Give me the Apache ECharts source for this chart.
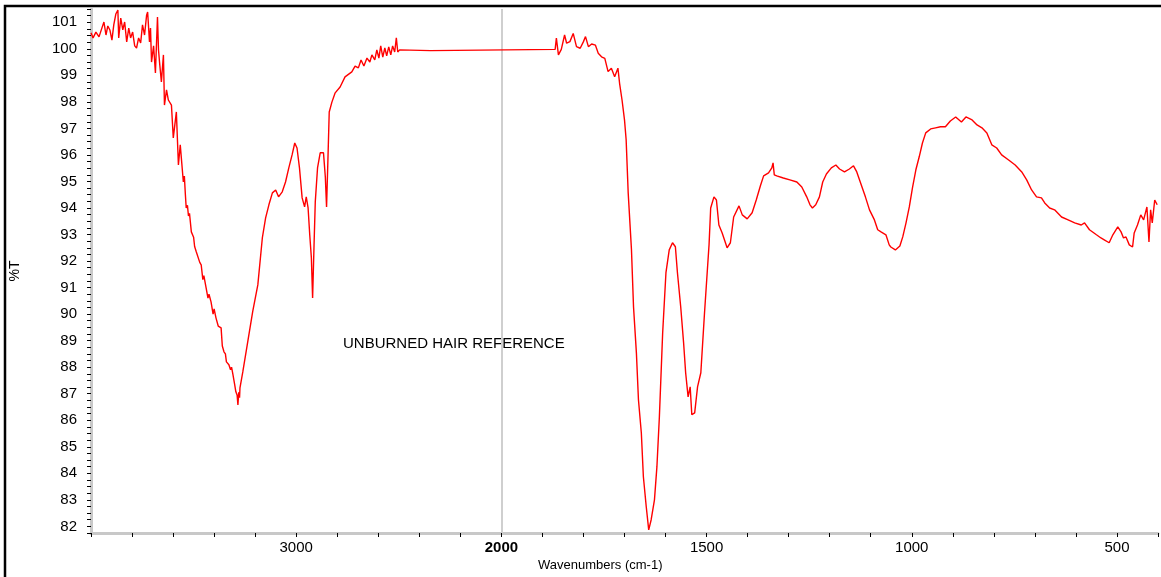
<!DOCTYPE html>
<html><head><meta charset="utf-8">
<script src="https://cdn.jsdelivr.net/npm/echarts@6/dist/echarts.min.js"></script>
<style>html,body{margin:0;padding:0;background:#fff}#c{width:1161px;height:577px}</style>
</head><body><div id="c"></div>
<script>
// [wavenumber (cm-1), %T] pairs, split by region
const ohNhRegion = [
[4000,100.60],[3990,100.41],[3976,100.63],[3961,100.45],[3947,100.78],[3937,101.01],[3927,100.52],[3918,100.86],
[3908,100.71],[3898,100.33],[3889,100.90],[3879,101.31],[3869,101.46],[3865,100.41],[3855,101.16],[3845,100.71],
[3836,101.01],[3826,100.26],[3816,100.78],[3807,100.41],[3797,100.63],[3787,100.11],[3778,100.03],[3768,100.41],
[3758,100.22],[3749,100.90],[3739,100.52],[3729,101.27],[3724,101.39],[3715,100.26],[3710,100.78],[3705,99.50],
[3695,100.11],[3686,99.09],[3676,101.20],[3671,99.96],[3666,99.50],[3657,98.75],[3647,99.77],[3642,97.88],
[3632,98.45],[3623,98.07],[3608,97.88],[3599,96.64],[3584,97.62],[3574,95.62],[3565,96.38],[3550,94.98],
[3545,95.20],[3540,94.50],[3536,94.00],[3530,94.10],[3525,93.70],[3520,93.80],[3511,93.10],[3500,92.90],
[3495,92.55],[3487,92.35],[3480,92.40],[3470,91.95],[3463,91.86],[3455,91.30],[3450,91.45],[3439,90.99],
[3430,90.60],[3425,90.75],[3415,90.46],[3405,90.00],[3400,90.20],[3391,89.86],[3380,89.55],[3372,89.62],
[3366,89.48],[3360,88.80],[3352,88.58],[3345,88.50],[3340,88.20],[3328,88.09],[3320,87.90],[3315,88.00],
[3308,87.71],[3300,87.35],[3294,87.07],[3288,86.95],[3284,86.58],[3280,87.05],[3276,86.85],[3274,87.22],
[3260,87.83],[3236,88.96],[3212,90.09],[3187,91.10],[3165,92.87],[3149,93.63],[3133,94.12],[3116,94.57],
[3100,94.68],[3086,94.42],[3068,94.61],[3052,94.98],[3036,95.51],[3020,96.00],[3007,96.45],[2996,96.26]
];
const chRegion = [
[2984,95.51],[2971,94.38],[2959,94.04],[2951,94.42],[2942,94.00],[2934,92.99],[2926,92.12],[2920,90.61],
[2913,92.61],[2907,94.23],[2896,95.51],[2883,96.08],[2867,96.08],[2858,95.17],[2852,94.04],[2845,95.92],
[2839,97.62],[2826,97.99],[2810,98.34],[2786,98.56],[2762,98.94],[2729,99.13],[2713,99.35],[2697,99.28],
[2684,99.58],[2670,99.35],[2655,99.65],[2641,99.50],[2631,99.77],[2617,99.58],[2607,99.96],[2597,99.65],
[2588,100.11],[2578,99.69],[2568,100.03],[2559,99.73],[2549,100.07],[2539,99.77],[2530,100.11],[2520,99.88],
[2512,100.41],[2505,99.88],[2496,99.96],[2345,99.93],[2344,99.98],[1869,99.98]
];
const amideRegion = [
[1866,100.40],[1861,99.77],[1854,99.98],[1846,100.52],[1841,100.21],[1833,100.27],[1825,100.58],[1817,100.08],
[1808,100.02],[1800,100.27],[1795,100.46],[1788,100.08],[1780,100.18],[1771,100.14],[1764,99.83],[1756,99.70],
[1748,99.64],[1740,99.14],[1732,99.27],[1724,98.95],[1716,99.27],[1712,98.70],[1706,98.07],[1700,97.32],
[1696,96.57],[1691,94.57],[1683,92.42],[1678,90.27],[1671,88.54],[1666,86.77],[1659,85.53],[1654,83.87],
[1647,82.74],[1641,81.87],[1635,82.25],[1627,83.00],[1621,84.25],[1615,86.13],[1607,89.30],[1599,91.56],
[1591,92.42],[1583,92.69],[1576,92.54],[1571,91.56],[1563,90.27],[1556,88.92],[1551,87.79],[1545,86.88],
[1540,87.26],[1536,86.21],[1529,86.28],[1522,87.26],[1514,87.79],[1508,89.30],[1505,90.05],[1498,91.68],
[1494,92.61],[1490,94.00],[1482,94.42],[1476,94.30],[1470,93.36],[1462,93.06],[1458,93.06],[1450,92.50],
[1442,92.69],[1434,93.66],[1421,94.08],[1413,93.74],[1401,93.59],[1389,93.82],[1379,94.30],[1369,94.83],
[1361,95.21],[1349,95.32],[1341,95.51],[1338,95.70],[1335,95.25],[1329,95.21],[1313,95.13],[1297,95.06],
[1280,94.98],[1268,94.79],[1256,94.42],[1248,94.12],[1242,94.00],[1234,94.12],[1225,94.42],[1217,94.98]
];
const fingerprintRegion = [
[1208,95.28],[1196,95.51],[1185,95.62],[1176,95.47],[1164,95.36],[1152,95.47],[1142,95.59],[1134,95.36],
[1123,94.87],[1113,94.42],[1103,93.93],[1091,93.55],[1083,93.18],[1075,93.10],[1063,92.99],[1055,92.61],
[1051,92.53],[1040,92.42],[1029,92.57],[1022,92.91],[1014,93.44],[1006,94.04],[998,94.79],[990,95.44],
[982,95.92],[974,96.45],[966,96.83],[954,96.98],[942,97.02],[930,97.06],[918,97.06],[906,97.28],
[893,97.43],[879,97.24],[868,97.43],[853,97.32],[841,97.13],[829,97.02],[817,96.83],[805,96.38],
[793,96.26],[781,96.00],[764,95.81],[748,95.62],[732,95.36],[720,95.06],[708,94.68],[696,94.42],
[684,94.38],[676,94.19],[664,94.00],[652,93.93],[635,93.66],[619,93.55],[603,93.44],[587,93.36],
[579,93.44],[567,93.18],[550,92.99],[539,92.87],[531,92.80],[519,92.69],[510,92.99],[498,93.29],
[490,93.10],[484,92.87],[478,92.91],[470,92.61],[462,92.53],[458,93.06],[450,93.36],[442,93.74],
[435,93.55],[427,94.04],[422,92.72],[418,93.93],[414,93.44],[408,94.30],[402,94.12]
];
const xTickLabels = [3000, 2000, 1500, 1000, 500];
const boldTick = 2000;
const xTitle = 'Wavenumbers (cm-1)';
const yTitle = '%T';
const annotation = 'UNBURNED HAIR REFERENCE';
const breakAt = 2000; // above this wavenumber the axis is compressed by 2

function toAxis(w) { return w > breakAt ? breakAt + (w - breakAt) / 2 : w; }
function fromAxis(u) { return u > breakAt ? breakAt + (u - breakAt) * 2 : u; }

const spectrum = ohNhRegion.concat(chRegion, amideRegion, fingerprintRegion);
const data = spectrum.map(p => [toAxis(p[0]), p[1]]);
const FONT = 'Liberation Sans, Arial, sans-serif';

const chart = echarts.init(document.getElementById('c'), null, {renderer: 'canvas'});
chart.setOption({
  animation: false,
  backgroundColor: '#fff',
  grid: {left: 89, right: -3, top: 9, bottom: 44, containLabel: false},
  xAxis: {
    type: 'value', inverse: true, min: 400, max: 3000, interval: 100,
    axisLine: {show: true, lineStyle: {color: '#c8c8c8', width: 3}},
    axisTick: {show: true, interval: 0, length: 4, lineStyle: {color: '#000', width: 1}},
    splitLine: {show: false},
    axisLabel: {
      interval: 0, margin: 7, color: '#000', fontSize: 15, fontFamily: FONT,
      showMinLabel: true, showMaxLabel: true,
      formatter: function (u) {
        const w = Math.round(fromAxis(Math.round(u)));
        if (xTickLabels.indexOf(w) < 0) return '';
        return w === boldTick ? '{b|' + w + '}' : String(w);
      },
      rich: {b: {fontWeight: 'bold', fontSize: 15, fontFamily: FONT, color: '#000'}}
    }
  },
  yAxis: {
    type: 'value', min: 81.75, max: 101.5, interval: 0.25,
    name: yTitle, nameLocation: 'middle', nameRotate: 90, nameGap: 69,
    nameTextStyle: {color: '#000', fontSize: 14, fontFamily: FONT},
    axisLine: {show: true, lineStyle: {color: '#c8c8c8', width: 3}},
    axisTick: {show: true, interval: 0, length: 4, lineStyle: {color: '#000', width: 1}},
    splitLine: {show: false},
    axisLabel: {
      interval: 0, margin: 14, color: '#000', fontSize: 15, fontFamily: FONT,
      formatter: function (v) {
        const r = Math.round(v);
        return Math.abs(v - r) < 1e-6 ? String(r) : '';
      }
    }
  },
  series: [{
    type: 'line', data: data, showSymbol: false, symbol: 'none',
    lineStyle: {color: '#ff0000', width: 1.4}, z: 5,
    markLine: {
      silent: true, symbol: ['none', 'none'], label: {show: false},
      lineStyle: {color: '#cfcfcf', width: 2, type: 'solid'},
      data: [{xAxis: toAxis(breakAt)}], z: 1
    }
  }],
  graphic: [
    {type: 'rect', shape: {x: 5, y: 6, width: 1300, height: 700}, style: {fill: 'none', stroke: '#000', lineWidth: 2.5}, silent: true},
    {type: 'text', left: 343, top: 336, style: {text: annotation, fill: '#000', fontSize: 15, fontFamily: FONT}},
    {type: 'text', left: 538, top: 559, style: {text: xTitle, fill: '#000', fontSize: 13, fontFamily: FONT}}
  ]
});
</script>
</body></html>
